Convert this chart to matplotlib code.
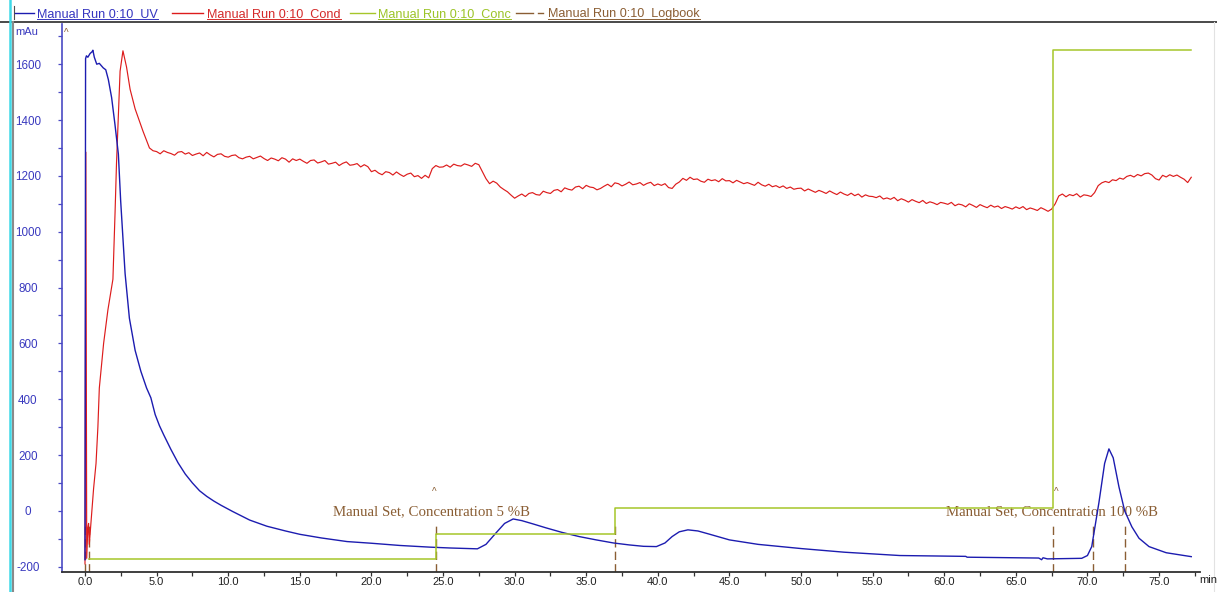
import numpy as np
import matplotlib
matplotlib.use('Agg')
import matplotlib.pyplot as plt
from matplotlib.lines import Line2D

plt.rcParams['font.family'] = ['Liberation Sans', 'DejaVu Sans']

# ---- UV trace (mAu) ----
uv_time = [0.0, 0.04, 0.1, 0.2, 0.35, 0.5, 0.55, 0.65, 0.82, 1.0, 1.27, 1.45, 1.63, 1.86,
           2.09, 2.33, 2.49, 2.8, 3.1, 3.5, 3.9, 4.3, 4.6, 4.9, 5.2, 5.5, 6.0, 6.5, 7.0, 7.5,
           8.0, 8.5, 9.0, 9.5, 10.3, 11.5, 12.7, 14.0, 15.0, 16.5, 18.3, 20.0, 22.0, 24.1,
           25.5, 27.4, 28.0, 28.7, 29.3, 29.9, 30.5, 31.3, 32.2, 33.3, 34.5, 35.7, 36.9, 38.0,
           39.0, 39.9, 40.5, 41.0, 41.5, 42.1, 42.8, 43.5, 45.0, 47.0, 50.0, 53.0, 56.9, 61.5,
           61.6, 66.6, 66.8, 66.9, 67.2, 69.6, 70.0, 70.3, 70.8, 71.2, 71.5, 71.8, 72.2, 72.6,
           73.1, 73.6, 74.3, 75.5, 76.5, 77.25]
uv_mau = [-175, 1620, 1630, 1625, 1638, 1645, 1650, 1625, 1600, 1603, 1587, 1580, 1545, 1480,
          1385, 1278, 1111, 850, 690, 575, 500, 440, 405, 345, 305, 272, 220, 172, 132, 100,
          72, 52, 35, 20, -2, -33, -55, -72, -84, -97, -110, -116, -124, -130,
          -133, -136, -120, -79, -45, -29, -35, -47, -61, -77, -92, -104, -115, -122,
          -127, -128, -115, -92, -75, -68, -72, -82, -104, -120, -135, -148, -160, -163,
          -166, -169, -175, -168, -172, -170, -160, -128, 29, 170, 222, 190, 86, 0,
          -57, -98, -128, -150, -158, -164]

# ---- Conductivity trace, start-up part ----
cond_start_time = [0.0, 0.06, 0.12, 0.2, 0.25, 0.3, 0.45, 0.6, 0.77, 0.9, 1.0, 1.3, 1.6,
                   1.95, 2.1, 2.2, 2.45, 2.65, 2.9, 3.15, 3.5, 4.05, 4.5, 4.75]
cond_start = [-190, 1285, -170, -60, -45, -120, -20, 80, 170, 300, 440, 600, 720,
              830, 1070, 1245, 1575, 1648, 1590, 1510, 1440, 1360, 1300, 1290]

# ---- Conductivity trace from 5.0 min, one reading every 0.25 min ----
cond_step = 0.25
cond_grid = [
    1287, 1279, 1290, 1284, 1280, 1274, 1285, 1287, 1278, 1283, 1273, 1278, 1282, 1272, 1284, 1275, 1268, 1277, 1279, 1270,
    1267, 1273, 1275, 1265, 1261, 1267, 1270, 1261, 1266, 1271, 1262, 1255, 1264, 1260, 1254, 1265, 1260, 1249, 1261, 1255,
    1260, 1252, 1245, 1255, 1257, 1246, 1250, 1255, 1242, 1245, 1249, 1237, 1245, 1250, 1238, 1240, 1244, 1232, 1240, 1233,
    1215, 1220, 1210, 1204, 1215, 1212, 1203, 1214, 1205, 1198, 1206, 1210, 1197, 1201, 1191, 1202, 1193, 1226, 1237, 1231,
    1232, 1239, 1231, 1242, 1237, 1235, 1243, 1239, 1234, 1245, 1240, 1215, 1190, 1172, 1181, 1174, 1160, 1151, 1143, 1131,
    1120, 1128, 1135, 1126, 1137, 1140, 1133, 1131, 1145, 1140, 1137, 1148, 1151, 1143, 1157, 1152, 1149, 1160, 1163, 1154,
    1166, 1160, 1158, 1150, 1155, 1163, 1170, 1161, 1175, 1172, 1164, 1170, 1178, 1168, 1171, 1176, 1166, 1173, 1177, 1165,
    1171, 1166, 1172, 1158, 1155, 1170, 1178, 1191, 1184, 1195, 1187, 1189, 1181, 1177, 1188, 1183, 1186, 1179, 1190, 1182,
    1183, 1175, 1184, 1178, 1172, 1176, 1171, 1166, 1177, 1168, 1163, 1170, 1161, 1165, 1158, 1164, 1155, 1160, 1152, 1155,
    1156, 1146, 1153, 1147, 1141, 1148, 1143, 1137, 1146, 1139, 1133, 1142, 1135, 1130, 1138, 1129, 1135, 1124, 1132, 1127,
    1126, 1122, 1128, 1117, 1121, 1116, 1123, 1111, 1118, 1113, 1106, 1115, 1109, 1104, 1112, 1101, 1107, 1103, 1097, 1105,
    1102, 1098, 1105, 1093, 1099, 1096, 1089, 1100, 1094, 1087, 1097, 1091, 1086, 1095, 1088, 1092, 1083, 1090, 1086, 1081,
    1089, 1083, 1090, 1079, 1085, 1081, 1076, 1086, 1080, 1073, 1081, 1100, 1128, 1135, 1125, 1133, 1129, 1136, 1124, 1132,
    1130, 1126, 1140, 1165, 1175, 1180, 1176, 1186, 1183, 1192, 1188, 1198, 1202, 1196, 1205, 1200, 1208, 1210, 1203, 1190,
    1185, 1202, 1196, 1204, 1198, 1203, 1195, 1188, 1176, 1195,
]

# ---- Concentration steps (%B) ----
conc_time = [0.3, 24.5, 37.0, 67.6, 77.25]
conc_pct = [0, 5, 10, 100, 100]

# ---- Logbook events ----
log_time = [0.0, 0.3, 24.5, 37.0, 67.6, 70.4, 72.6]
log_notes = [(24.2, 'Manual Set, Concentration 5 %B'),
             (67.5, 'Manual Set, Concentration 100 %B')]
log_carets = [(-1.3, 1712), (24.4, 68), (67.8, 68)]

W, H = 1217, 592
C_UV = '#1c1cb0'
C_COND = '#dd1c1c'
C_CONC = '#a6c62a'
C_LOG = '#8a5e34'
C_AXIS = '#4a4ac4'


def px(x, y):
    return x / W, 1 - y / H


fig = plt.figure(figsize=(W / 100, H / 100), dpi=100)
ax = fig.add_axes([62 / W, 1 - 572 / H, (1200 - 62) / W, (572 - 24) / H])

ymin, ymax = -219, 1744
ax.set_xlim(-1.606, 77.86)
ax.set_ylim(ymin, ymax)

cond_time = list(cond_start_time) + list(5.0 + cond_step * np.arange(len(cond_grid)))
cond_vals = list(cond_start) + list(cond_grid)

# logbook markers
for t in log_time:
    ax.plot([t, t], [ymin, -50], color=C_LOG, lw=1.0, dashes=(6, 3), zorder=2)
for t, s in log_notes:
    ax.text(t, -2, s, color=C_LOG, fontsize=10.7, family=['Liberation Serif'],
            ha='center', va='center', zorder=3)
for t, v in log_carets:
    ax.text(t, v, '^', color=C_LOG, fontsize=7, ha='center', va='center', clip_on=False)

ax.plot(cond_time, cond_vals, color=C_COND, lw=0.85, zorder=4)
ax.plot(uv_time, uv_mau, color=C_UV, lw=1.0, zorder=5)

# concentration uses its own hidden scale
ax2 = ax.twinx()
ax2.set_ylim(-2.47, 105.1)
ax2.plot(conc_time, conc_pct, drawstyle='steps-post', color=C_CONC, lw=1.1)
ax2.set_axis_off()

for s in ['top', 'right']:
    ax.spines[s].set_visible(False)
ax.spines['left'].set_color(C_AXIS)
ax.spines['left'].set_linewidth(1.2)
ax.spines['bottom'].set_color('#303030')
ax.spines['bottom'].set_linewidth(1.3)

yt = list(range(-200, 1601, 200))
ax.set_yticks(yt)
ax.set_yticklabels([str(v) for v in yt], ha='center')
ax.set_yticks(list(range(-100, 1701, 200)), minor=True)
ax.tick_params(axis='y', which='both', direction='out', length=2.9, width=0.9,
               color=C_AXIS, labelcolor='#3a3abf', labelsize=8.4, pad=21.6)

xt = np.arange(0, 77.6, 2.5)
ax.set_xticks(xt)
ax.set_xticklabels(['%.1f' % t if t % 5 == 0 else '' for t in xt])
ax.tick_params(axis='x', direction='out', length=2.9, width=0.9, color='#303030',
               labelcolor='#202020', labelsize=8, pad=1)

fig.text(*px(1199, 580), 'min', fontsize=8, color='#202020', ha='left', va='center')
fig.text(*px(15, 32), 'mAu', fontsize=8, color='#3a3abf', ha='left', va='center')

# window frame
fig.add_artist(Line2D([0, 1], [1 - 22 / H] * 2, color='#2a2a2a', lw=1.2))
fig.add_artist(Line2D([9.5 / W] * 2, [0, 1], color='#3fd9e8', lw=1.8))
fig.add_artist(Line2D([12.5 / W] * 2, [0, 1 - 22 / H], color='#8a8a8a', lw=1.5))
fig.add_artist(Line2D([14 / W] * 2, [1 - 6 / H, 1 - 19 / H], color='#505050', lw=0.8))
fig.add_artist(Line2D([1214 / W] * 2, [0, 1 - 22 / H], color='#e2e2e2', lw=0.8))

# legend strip with underlined names
renderer = fig.canvas.get_renderer()
legend = [(15, 34, 37, C_UV, '#3535c0', 'Manual Run 0:10  UV', None),
          (172, 203, 207, C_COND, '#d42a2a', 'Manual Run 0:10  Cond', None),
          (350, 375, 378, C_CONC, '#9cc428', 'Manual Run 0:10  Conc', None),
          (516, 533, 548, C_LOG, '#8b5e34', 'Manual Run 0:10  Logbook', (538, 543))]
for x0, x1, tx, lc, tc, name, dash in legend:
    fig.add_artist(Line2D([x0 / W, x1 / W], [1 - 13 / H] * 2, color=lc, lw=1.0))
    if dash:
        fig.add_artist(Line2D([dash[0] / W, dash[1] / W], [1 - 13 / H] * 2, color=lc, lw=1.0))
    t = fig.text(*px(tx, 17.5), name, fontsize=9.1, color=tc, ha='left', va='baseline')
    bb = t.get_window_extent(renderer)
    fig.add_artist(Line2D([bb.x0 / W, bb.x1 / W], [1 - 19 / H] * 2, color=tc, lw=0.7))

fig.savefig('out.png', dpi=100, facecolor='white')
